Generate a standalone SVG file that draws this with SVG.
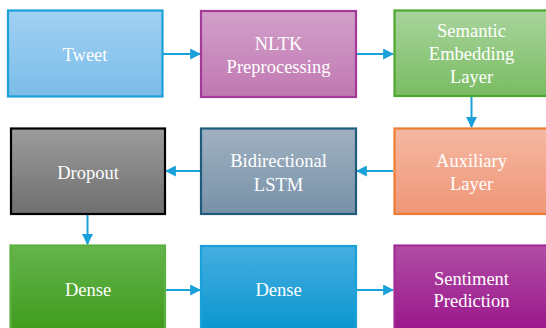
<svg xmlns="http://www.w3.org/2000/svg" width="546" height="328" viewBox="0 0 546 328">
<style>
text{font-family:"Liberation Serif","Times New Roman",serif;font-size:18.5px;fill:#ffffff;text-anchor:middle}
rect{stroke-width:2.2}
.c{stroke:#1ba1d9;stroke-width:2;fill:none}
</style>
<defs>
<marker id="ah" viewBox="0 0 10 10" refX="9" refY="5" markerWidth="5.5" markerHeight="5.5" orient="auto" markerUnits="strokeWidth"><path d="M0,0 L10,5 L0,10 Z" fill="#1ba1d9"/></marker>
<linearGradient id="gTweet" x1="0" y1="0" x2="0" y2="1"><stop offset="0" stop-color="#a0d1f3"/><stop offset="1" stop-color="#7bbce9"/></linearGradient>
<linearGradient id="gNltk" x1="0" y1="0" x2="0" y2="1"><stop offset="0" stop-color="#d2a0c9"/><stop offset="1" stop-color="#c078b2"/></linearGradient>
<linearGradient id="gSem" x1="0" y1="0" x2="0" y2="1"><stop offset="0" stop-color="#a8d49c"/><stop offset="1" stop-color="#79bc62"/></linearGradient>
<linearGradient id="gDrop" x1="0" y1="0" x2="0" y2="1"><stop offset="0" stop-color="#9c9c9c"/><stop offset="1" stop-color="#6f6f6f"/></linearGradient>
<linearGradient id="gBi" x1="0" y1="0" x2="0" y2="1"><stop offset="0" stop-color="#a0b1c1"/><stop offset="1" stop-color="#7891a8"/></linearGradient>
<linearGradient id="gAux" x1="0" y1="0" x2="0" y2="1"><stop offset="0" stop-color="#f5b8a2"/><stop offset="1" stop-color="#f09677"/></linearGradient>
<linearGradient id="gD1" x1="0" y1="0" x2="0" y2="1"><stop offset="0" stop-color="#64b44c"/><stop offset="1" stop-color="#3f9b1c"/></linearGradient>
<linearGradient id="gD2" x1="0" y1="0" x2="0" y2="1"><stop offset="0" stop-color="#46aee0"/><stop offset="1" stop-color="#0896cf"/></linearGradient>
<linearGradient id="gSent" x1="0" y1="0" x2="0" y2="1"><stop offset="0" stop-color="#b04ca5"/><stop offset="1" stop-color="#9a168b"/></linearGradient>
</defs>
<g id="connectors">
<line class="c" x1="163" y1="54" x2="200" y2="54" marker-end="url(#ah)"/>
<line class="c" x1="357" y1="54" x2="393" y2="54" marker-end="url(#ah)"/>
<line class="c" x1="471.5" y1="97" x2="471.5" y2="127" marker-end="url(#ah)"/>
<line class="c" x1="393" y1="171" x2="357" y2="171" marker-end="url(#ah)"/>
<line class="c" x1="200" y1="171" x2="166" y2="171" marker-end="url(#ah)"/>
<line class="c" x1="87.5" y1="215" x2="87.5" y2="244" marker-end="url(#ah)"/>
<line class="c" x1="166" y1="290" x2="200" y2="290" marker-end="url(#ah)"/>
<line class="c" x1="357" y1="290" x2="393" y2="290" marker-end="url(#ah)"/>
</g>
<g id="tweet"><rect x="8" y="10.5" width="154.5" height="86" fill="url(#gTweet)" stroke="#1ba1d9"/><text x="85" y="61">Tweet</text></g>
<g id="nltk"><rect x="201" y="11" width="155" height="86" fill="url(#gNltk)" stroke="#a43a97"/><text x="278.5" y="49.5">NLTK</text><text x="278.5" y="72.5">Preprocessing</text></g>
<g id="semantic"><rect x="394.5" y="10.5" width="154" height="85.5" fill="url(#gSem)" stroke="#4ea72e"/><text x="471.5" y="37">Semantic</text><text x="471.5" y="60">Embedding</text><text x="471.5" y="83">Layer</text></g>
<g id="dropout"><rect x="11" y="128.5" width="154" height="85.5" fill="url(#gDrop)" stroke="#000000"/><text x="88" y="178.5">Dropout</text></g>
<g id="bilstm"><rect x="201" y="128.5" width="155" height="85.5" fill="url(#gBi)" stroke="#1f5b7b"/><text x="278.5" y="166.5">Bidirectional</text><text x="278.5" y="190.5">LSTM</text></g>
<g id="auxiliary"><rect x="394.5" y="128.5" width="154" height="85.5" fill="url(#gAux)" stroke="#ed7d31"/><text x="471.5" y="166.5">Auxiliary</text><text x="471.5" y="190">Layer</text></g>
<g id="dense1"><rect x="10.5" y="245.5" width="154.5" height="86" fill="url(#gD1)" stroke="#5cb040"/><text x="88" y="296">Dense</text></g>
<g id="dense2"><rect x="201" y="246" width="155" height="86" fill="url(#gD2)" stroke="#1ba1d9"/><text x="278.5" y="296">Dense</text></g>
<g id="sentiment"><rect x="394.5" y="245.5" width="154" height="86" fill="url(#gSent)" stroke="#a42a95"/><text x="471.5" y="284.5">Sentiment</text><text x="471.5" y="307">Prediction</text></g>
</svg>
